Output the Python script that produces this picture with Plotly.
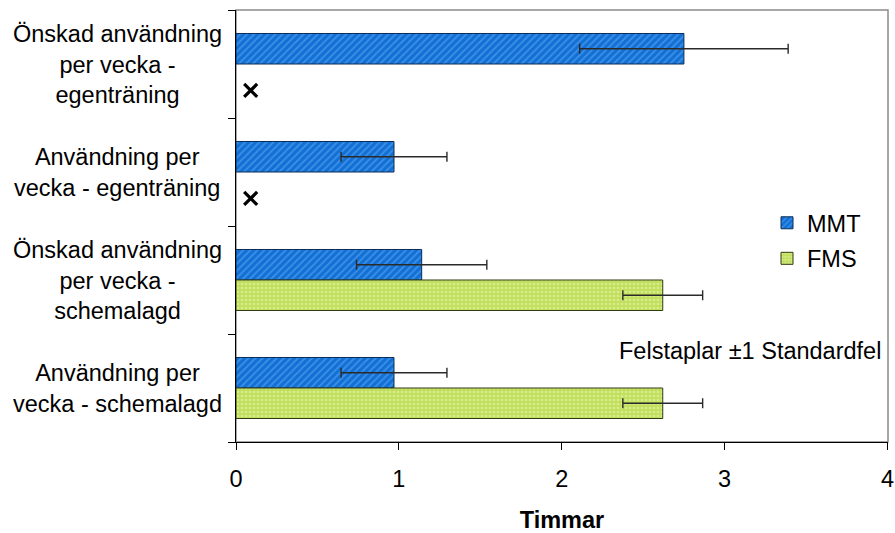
import plotly.graph_objects as go

# Categories (top to bottom) and values in hours
categories = [
    "Önskad användning<br>per vecka -<br>egenträning",
    "Användning per<br>vecka - egenträning",
    "Önskad användning<br>per vecka -<br>schemalagd",
    "Användning per<br>vecka - schemalagd",
]
mmt_values = [2.75, 0.97, 1.14, 0.97]
mmt_errors = [0.64, 0.325, 0.40, 0.325]
fms_values = [None, None, 2.62, 2.62]
fms_errors = [None, None, 0.245, 0.245]
# FMS has no data for the first two categories; marked with a cross
fms_missing_x = [0.09, 0.09]
fms_missing_idx = [0, 1]

x_ticks = [0, 1, 2, 3, 4]
x_title = "Timmar"
note_text = "Felstaplar ±1 Standardfel"

FONT = "Liberation Sans, Arial, sans-serif"
FS = 23.5
W, H = 895, 533
M_L, M_R, M_T, M_B = 236, 7, 10, 91
plot_w = W - M_L - M_R
plot_h = H - M_T - M_B

idx = list(range(len(categories)))

fig = go.Figure()

fig.add_trace(go.Bar(
    name="MMT", y=idx, x=mmt_values, orientation="h",
    marker=dict(
        color="#1170d6",
        line=dict(color="#0b2c57", width=1),
        pattern=dict(shape="/", fgcolor="#6aaef2", size=5, solidity=0.35, fillmode="overlay"),
    ),
    error_x=dict(type="data", array=mmt_errors, color="#2a2a2a", thickness=1.4, width=5),
    legendgroup="a",
))

fig.add_trace(go.Bar(
    name="FMS", y=idx, x=fms_values, orientation="h",
    marker=dict(
        color="#c2df5c",
        line=dict(color="#2e3a10", width=1),
        pattern=dict(shape=".", fgcolor="#eef7c6", size=4, solidity=0.35, fillmode="overlay"),
    ),
    error_x=dict(type="data", array=fms_errors, color="#2a2a2a", thickness=1.4, width=5),
    legendgroup="b",
))

# Cross markers for the missing FMS values, placed in the FMS slot
slot_offset = 0.245
fig.add_trace(go.Scatter(
    x=fms_missing_x, y=[i + slot_offset for i in fms_missing_idx],
    mode="markers", showlegend=False, hoverinfo="skip",
    marker=dict(symbol="x-thin", size=13, line=dict(color="black", width=3.2)),
))

# Category labels, centred multi-line text left of the axis
label_center_px = 117
for i, cat in enumerate(categories):
    fig.add_annotation(
        text=cat, xref="paper", yref="y",
        x=-(M_L - label_center_px) / plot_w, y=i,
        xanchor="center", yanchor="middle", align="center",
        showarrow=False, font=dict(family=FONT, size=FS, color="black"),
    )

fig.add_annotation(
    text=note_text, xref="paper", yref="paper",
    x=(617 - M_L) / plot_w, y=1 - (351 - M_T) / plot_h,
    xanchor="left", yanchor="middle", showarrow=False,
    font=dict(family=FONT, size=FS, color="black"),
)

# Gray plot-area frame (left/bottom overdrawn by black axis lines)
fig.add_shape(type="rect", xref="paper", yref="paper", x0=0, x1=1, y0=0, y1=1,
              line=dict(color="#8a8a8a", width=1.5), layer="below")

fig.update_layout(
    width=W, height=H,
    margin=dict(l=M_L, r=M_R, t=M_T, b=M_B, autoexpand=False),
    paper_bgcolor="white", plot_bgcolor="white",
    barmode="group", bargap=0.435, bargroupgap=0,
    font=dict(family=FONT, size=FS, color="black"),
    showlegend=True,
    legend=dict(
        x=(767 - M_L) / plot_w, y=1 - (201 - M_T) / plot_h,
        xanchor="left", yanchor="top",
        traceorder="grouped", tracegroupgap=2,
        bgcolor="rgba(0,0,0,0)", font=dict(family=FONT, size=FS, color="black"),
    ),
    xaxis=dict(
        range=[0, 4.003], tickvals=x_ticks,
        ticks="outside", ticklen=7, tickcolor="black",
        showline=True, linecolor="black", linewidth=1, showgrid=False, zeroline=False,
        ticklabeloverflow="allow", ticklabelstandoff=9, automargin=False,
        tickfont=dict(family=FONT, size=FS, color="black"),
        title=dict(text="<b>" + x_title + "</b>", font=dict(family=FONT, size=FS, color="black"), standoff=28),
    ),
    yaxis=dict(
        range=[len(categories) - 0.5, -0.5], showticklabels=False,
        tickvals=idx, ticks="", showgrid=False, zeroline=False, automargin=False,
        showline=True, linecolor="black", linewidth=1,
        minor=dict(tick0=0.5, dtick=1, ticks="outside", ticklen=7, tickcolor="black", showgrid=False),
    ),
)

fig.write_html("out.html")
